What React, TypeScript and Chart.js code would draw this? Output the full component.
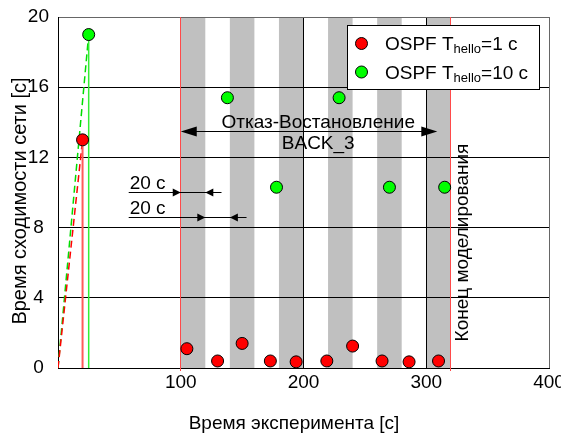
import React, { useEffect, useRef } from 'react';
import { Chart, registerables } from 'chart.js';

Chart.register(...registerables);

const FONT = "'Liberation Sans', Arial, sans-serif";

// OSPF, Hello interval = 1 s: experiment time [s] and convergence time [s]
const helloOneTimes = [20, 105, 130, 150, 173, 194, 219, 240, 264, 286, 310];
const helloOneValues = [13, 1.1, 0.4, 1.4, 0.4, 0.35, 0.4, 1.25, 0.4, 0.35, 0.4];

// OSPF, Hello interval = 10 s
const helloTenTimes = [25, 138, 178, 229, 270, 315];
const helloTenValues = [19, 15.4, 10.3, 15.4, 10.3, 10.3];

// Link BACK_3 is down during each of these windows
const failureStarts = [100, 140, 180, 220, 260, 300];
const failureLength = 20;

// Failure/recovery cycle start and end of simulation
const cycleStart = 100;
const simulationEnd = 320;

const xTickValues = [0, 100, 200, 300, 400];
const yTickValues = [0, 4, 8, 12, 16, 20];

const legendEntries = [
  { name: 'OSPF T', sub: 'hello', tail: '=1 c', color: '#ff0000' },
  { name: 'OSPF T', sub: 'hello', tail: '=10 c', color: '#00ff00' },
];

const xTitle = 'Время эксперимента [c]';
const yTitle = 'Время сходимости сети [c]';
const spanLabel = 'Отказ-Востановление';
const linkLabel = 'BACK_3';
const endLabel = 'Конец моделирования';
const stepLabel = '20 c';

// same half-pixel alignment Chart.js uses for 1px grid lines
const align = (px: number) => Math.round(px - 0.5) + 0.5;

function arrowHead(ctx: CanvasRenderingContext2D, tipX: number, y: number, dir: number, len: number, half: number) {
  ctx.beginPath();
  ctx.moveTo(tipX, y);
  ctx.lineTo(tipX - dir * len, y - half);
  ctx.lineTo(tipX - dir * len, y + half);
  ctx.closePath();
  ctx.fill();
}

const decorations = {
  id: 'decorations',
  beforeDraw(chart: any) {
    const { ctx, chartArea: a, scales } = chart;
    const x = scales.x;
    ctx.save();
    ctx.fillStyle = '#ffffff';
    ctx.fillRect(0, 0, chart.width, chart.height);
    ctx.fillStyle = '#c0c0c0';
    failureStarts.forEach((s) => {
      const x0 = x.getPixelForValue(s);
      const x1 = x.getPixelForValue(s + failureLength);
      ctx.fillRect(x0, a.top, x1 - x0, a.bottom - a.top);
    });
    ctx.restore();
  },
  beforeDatasetsDraw(chart: any) {
    const { ctx, chartArea: a, scales } = chart;
    ctx.save();
    ctx.strokeStyle = '#ff4a4a';
    ctx.lineWidth = 1;
    [cycleStart, simulationEnd].forEach((v) => {
      const px = align(scales.x.getPixelForValue(v));
      ctx.beginPath();
      ctx.moveTo(px, a.top);
      ctx.lineTo(px, a.bottom + 3);
      ctx.stroke();
    });
    ctx.restore();
  },
  afterDraw(chart: any) {
    const { ctx, chartArea: a, scales } = chart;
    const X = (v: number) => scales.x.getPixelForValue(v);
    const Y = (v: number) => scales.y.getPixelForValue(v);
    ctx.save();
    ctx.fillStyle = '#000';
    ctx.strokeStyle = '#000';
    ctx.lineWidth = 1;
    ctx.font = `19px ${FONT}`;

    // failure / recovery span
    const spanY = align(Y(13.45));
    ctx.beginPath();
    ctx.moveTo(X(cycleStart) + 8, spanY);
    ctx.lineTo(X(309) - 8, spanY);
    ctx.stroke();
    arrowHead(ctx, X(cycleStart), spanY, -1, 16, 5);
    arrowHead(ctx, X(309), spanY, 1, 16, 5);
    ctx.textAlign = 'center';
    ctx.textBaseline = 'middle';
    ctx.fillText(spanLabel, X(212), Y(14.0));
    ctx.fillText(linkLabel, X(212), Y(12.75));

    // 20 s step markers
    const steps = [
      { y: 10.0, from: 57.6, to: 133.2, a: 100, b: 120, ty: 10.52 },
      { y: 8.6, from: 57.6, to: 153.6, a: 120, b: 140, ty: 9.1 },
    ];
    steps.forEach((s) => {
      const py = align(Y(s.y));
      ctx.beginPath();
      ctx.moveTo(X(s.from), py);
      ctx.lineTo(X(s.to), py);
      ctx.stroke();
      arrowHead(ctx, X(s.a), py, 1, 8, 4);
      arrowHead(ctx, X(s.b), py, -1, 8, 4);
      ctx.textAlign = 'left';
      ctx.fillText(stepLabel, X(s.from) + 1, Y(s.ty));
    });

    // end of simulation label
    ctx.save();
    ctx.translate(X(329.5), Y(7.15));
    ctx.rotate(-Math.PI / 2);
    ctx.textAlign = 'center';
    ctx.textBaseline = 'middle';
    ctx.fillText(endLabel, 0, 0);
    ctx.restore();

    // axis titles
    ctx.textAlign = 'center';
    ctx.textBaseline = 'middle';
    ctx.fillText(xTitle, 294, 424);
    ctx.save();
    ctx.font = `20px ${FONT}`;
    ctx.translate(20, 201);
    ctx.rotate(-Math.PI / 2);
    ctx.fillText(yTitle, 0, 0);
    ctx.restore();

    // legend
    const lx = a.right - 202;
    const ly = a.top + 8;
    ctx.fillStyle = '#fff';
    ctx.fillRect(lx, ly, 192, 64);
    ctx.strokeStyle = '#000';
    ctx.strokeRect(Math.round(lx) + 0.5, Math.round(ly) + 0.5, 192, 64);
    legendEntries.forEach((e, i) => {
      const cy = ly + 18.5 + i * 28.5;
      ctx.beginPath();
      ctx.arc(lx + 14.5, cy, 6, 0, Math.PI * 2);
      ctx.fillStyle = e.color;
      ctx.fill();
      ctx.lineWidth = 1;
      ctx.strokeStyle = '#000';
      ctx.stroke();
      ctx.fillStyle = '#000';
      ctx.textAlign = 'left';
      ctx.textBaseline = 'alphabetic';
      let tx = lx + 38;
      const base = cy + 6.5;
      ctx.font = `19px ${FONT}`;
      ctx.fillText(e.name, tx, base);
      tx += ctx.measureText(e.name).width;
      ctx.font = `13px ${FONT}`;
      ctx.fillText(e.sub, tx, base + 3);
      tx += ctx.measureText(e.sub).width;
      ctx.font = `19px ${FONT}`;
      ctx.fillText(e.tail, tx, base);
    });
    ctx.restore();
  },
};

function points(xs: number[], ys: number[]) {
  return xs.map((x, i) => ({ x, y: ys[i] }));
}

export default function App() {
  const ref = useRef<HTMLCanvasElement | null>(null);

  useEffect(() => {
    document.body.style.margin = '0';
    const canvas = ref.current;
    if (!canvas) return;
    const chart = new Chart(canvas, {
      type: 'scatter',
      data: {
        datasets: [
          {
            label: 'Hello 1 s',
            data: points(helloOneTimes, helloOneValues),
            backgroundColor: '#ff0000',
            borderColor: '#000',
            borderWidth: 1,
            pointRadius: 6,
            order: 0,
          },
          {
            label: 'Hello 10 s',
            data: points(helloTenTimes, helloTenValues),
            backgroundColor: '#00ff00',
            borderColor: '#000',
            borderWidth: 1,
            pointRadius: 6,
            order: 0,
          },
          {
            label: 'trend 1',
            data: [{ x: 0, y: 0 }, { x: helloOneTimes[0], y: helloOneValues[0] }],
            showLine: true,
            borderColor: '#ff0000',
            borderWidth: 1.5,
            borderDash: [7, 4],
            pointRadius: 0,
            order: 2,
          },
          {
            label: 'drop 1',
            data: [{ x: helloOneTimes[0], y: 0 }, { x: helloOneTimes[0], y: helloOneValues[0] }],
            showLine: true,
            borderColor: '#ff5a5a',
            borderWidth: 2,
            pointRadius: 0,
            order: 1,
          },
          {
            label: 'trend 10',
            data: [{ x: 0, y: 0 }, { x: helloTenTimes[0], y: helloTenValues[0] }],
            showLine: true,
            borderColor: '#00dd00',
            borderWidth: 1.5,
            borderDash: [7, 4],
            pointRadius: 0,
            order: 2,
          },
          {
            label: 'drop 10',
            data: [{ x: helloTenTimes[0], y: 0 }, { x: helloTenTimes[0], y: helloTenValues[0] }],
            showLine: true,
            borderColor: '#33ee33',
            borderWidth: 1.5,
            pointRadius: 0,
            order: 1,
          },
        ],
      },
      options: {
        animation: false,
        responsive: false,
        devicePixelRatio: 1,
        events: [],
        layout: { padding: { top: 17, right: 12, left: 0, bottom: 0 } },
        plugins: { legend: { display: false }, tooltip: { enabled: false } },
        scales: {
          x: {
            type: 'linear',
            min: xTickValues[0],
            max: xTickValues[xTickValues.length - 1],
            afterBuildTicks: (s: any) => {
              s.ticks = xTickValues.map((value) => ({ value }));
            },
            afterFit: (s: any) => {
              s.height = 70;
              s.paddingLeft = 0;
              s.paddingRight = 0;
            },
            ticks: {
              callback: (v: any) => (v === 0 ? '' : String(v)),
              color: '#000',
              font: { family: FONT, size: 19 },
              padding: 3,
              maxRotation: 0,
            },
            grid: {
              drawTicks: false,
              color: (c: any) => (c.tick && c.tick.value === 400 ? '#666' : '#000'),
              lineWidth: 1,
            },
            border: { display: true, color: '#000', width: 1 },
          },
          y: {
            type: 'linear',
            min: yTickValues[0],
            max: yTickValues[yTickValues.length - 1],
            afterBuildTicks: (s: any) => {
              s.ticks = yTickValues.map((value) => ({ value }));
            },
            afterFit: (s: any) => {
              s.width = 58;
              s.paddingTop = 0;
              s.paddingBottom = 0;
            },
            ticks: {
              color: '#000',
              font: { family: FONT, size: 19 },
              padding: 9,
              crossAlign: 'center',
            },
            grid: {
              drawTicks: false,
              color: (c: any) => (c.tick && c.tick.value === 20 ? '#666' : '#000'),
              lineWidth: 1,
            },
            border: { display: true, color: '#000', width: 1 },
          },
        },
      },
      plugins: [decorations],
    } as any);
    return () => chart.destroy();
  }, []);

  return (
    <div style={{ width: 561, height: 438 }}>
      <canvas ref={ref} width={561} height={438} style={{ display: 'block' }} />
    </div>
  );
}
